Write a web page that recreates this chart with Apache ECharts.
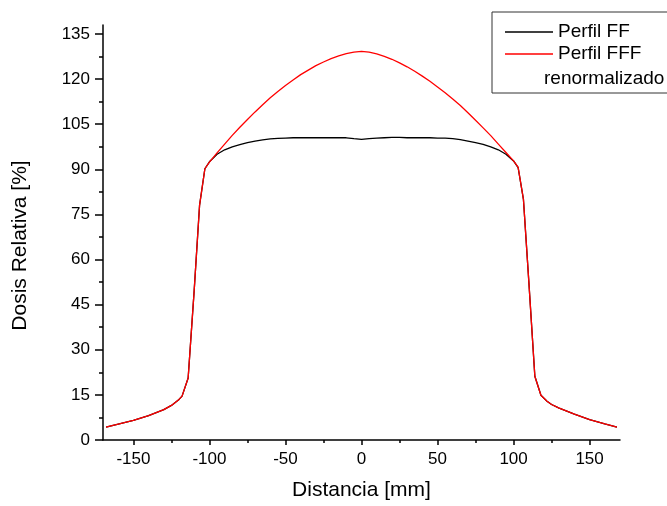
<!DOCTYPE html>
<html>
<head>
<meta charset="utf-8">
<script src="https://cdn.jsdelivr.net/npm/echarts@6/dist/echarts.min.js"></script>
<style>html,body{margin:0;padding:0;background:#fff}#c{width:667px;height:506px}</style>
</head>
<body>
<div id="c"></div>
<script>
// Distance [mm]
var distance = [-168,-160,-150,-140,-130,-125,-120,-118,-114,-110,-106.5,-103,-100,-95,-90,-85,-80,-75,-70,-65,-60,-55,-50,-45,-40,-35,-30,-25,-20,-15,-10,-5,0,5,10,15,20,25,30,35,40,45,50,55,60,65,70,75,80,85,90,95,100,103,106.5,110,114,118,122,125,130,135,140,150,160,168];
// Perfil FF (black)
var perfilFF = [4.3,5.3,6.5,8.1,10.1,11.5,13.5,14.6,20.6,50,78,90.2,92.5,95.0,96.5,97.5,98.2,98.9,99.4,99.8,100.1,100.3,100.4,100.5,100.5,100.5,100.5,100.5,100.5,100.5,100.5,100.2,100.0,100.2,100.4,100.5,100.6,100.6,100.5,100.5,100.5,100.5,100.4,100.4,100.2,99.9,99.4,98.9,98.3,97.5,96.5,95.0,92.8,90.6,80,53,21.2,14.9,12.9,11.8,10.6,9.6,8.6,6.8,5.4,4.3];
// Perfil FFF renormalizado (red)
var perfilFFF = [4.3,5.3,6.5,8.1,10.1,11.5,13.5,14.6,20.6,50,78,90.2,92.4,95.5,98.4,101.3,104.0,106.6,109.1,111.5,113.8,115.9,117.9,119.7,121.5,123.0,124.5,125.7,126.8,127.7,128.5,129.0,129.2,129.0,128.4,127.6,126.6,125.4,124.1,122.6,121.0,119.3,117.4,115.5,113.4,111.2,108.8,106.3,103.8,101.2,98.4,95.6,92.8,90.7,80,53,21.2,14.9,12.9,11.8,10.6,9.6,8.6,6.8,5.4,4.3];

var xMajorTicks = [-150,-100,-50,0,50,100,150];
var xMinorTicks = [-125,-75,-25,25,75,125];
var yMajorTicks = [0,15,30,45,60,75,90,105,120,135];
var yMinorTicks = [7.5,22.5,37.5,52.5,67.5,82.5,97.5,112.5,127.5];

function pairs(xs, ys){ return xs.map(function(x,i){ return [x, ys[i]]; }); }

var FONT = 'Liberation Sans, Arial, sans-serif';
var chart = echarts.init(document.getElementById('c'), null, {renderer:'canvas'});
var axisLine = {show:true, onZero:false, lineStyle:{color:'#000', width:1.5}};
chart.setOption({
  backgroundColor:'#fff',
  animation:false,
  grid:{left:103, right:47, top:25, bottom:64},
  legend:{
    left:492, top:12,
    orient:'vertical',
    padding:[9,40,28,13],
    itemGap:0,
    icon:'rect',
    itemWidth:48, itemHeight:1.3,
    borderColor:'#333', borderWidth:1,
    textStyle:{fontFamily:FONT, fontSize:19, color:'#000', lineHeight:22},
    data:['Perfil FF','Perfil FFF']
  },
  graphic:[{
    type:'text', left:544, top:69,
    style:{text:'renormalizado', font:'19px ' + FONT, fill:'#000'}
  }],
  xAxis:[{
    type:'value', min:-170, max:170,
    name:'Distancia [mm]', nameLocation:'middle', nameGap:40,
    nameTextStyle:{fontFamily:FONT, fontSize:21, color:'#000'},
    axisLine:axisLine,
    axisTick:{show:true, inside:false, length:5, customValues:xMajorTicks, lineStyle:{color:'#000', width:1.5}},
    axisLabel:{show:true, customValues:xMajorTicks, margin:11, fontFamily:FONT, fontSize:17, color:'#000'},
    splitLine:{show:false}
  },{
    type:'value', min:-170, max:170, position:'bottom',
    axisLine:{show:false, onZero:false},
    axisTick:{show:true, length:3, customValues:xMinorTicks, lineStyle:{color:'#000', width:1.5}},
    axisLabel:{show:false},
    splitLine:{show:false}
  }],
  yAxis:[{
    type:'value', min:0, max:138,
    name:'Dosis Relativa [%]', nameLocation:'middle', nameGap:72, nameRotate:90,
    nameTextStyle:{fontFamily:FONT, fontSize:21, color:'#000', padding:[0,26,0,0]},
    axisLine:axisLine,
    axisTick:{show:true, length:8, customValues:yMajorTicks, lineStyle:{color:'#000', width:1.5}},
    axisLabel:{show:true, customValues:yMajorTicks, margin:13, fontFamily:FONT, fontSize:17, color:'#000'},
    splitLine:{show:false}
  },{
    type:'value', min:0, max:138, position:'left',
    axisLine:{show:false, onZero:false},
    axisTick:{show:true, length:4, customValues:yMinorTicks, lineStyle:{color:'#000', width:1.5}},
    axisLabel:{show:false},
    splitLine:{show:false}
  }],
  series:[{
    name:'Perfil FF', type:'line', xAxisIndex:0, yAxisIndex:0,
    data:pairs(distance, perfilFF),
    symbol:'none', showSymbol:false,
    lineStyle:{color:'#000', width:1.3}, itemStyle:{color:'#000'}
  },{
    name:'Perfil FFF', type:'line', xAxisIndex:0, yAxisIndex:0,
    data:pairs(distance, perfilFFF),
    symbol:'none', showSymbol:false,
    lineStyle:{color:'#ff0000', width:1.3}, itemStyle:{color:'#ff0000'}
  }]
});
</script>
</body>
</html>
